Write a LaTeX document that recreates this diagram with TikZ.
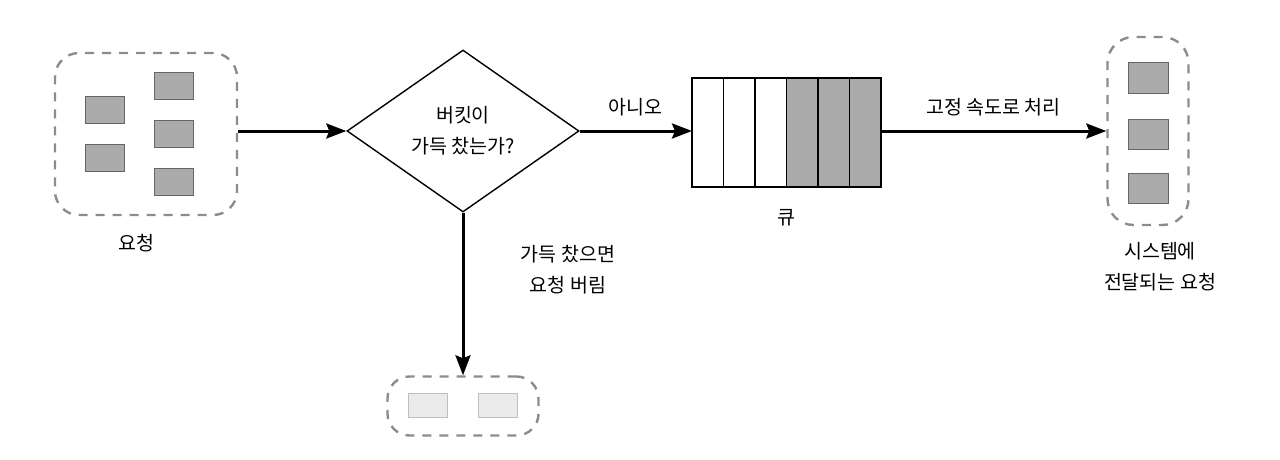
\documentclass[tikz,border=0pt]{standalone}
\usepackage{fontspec}
\setmainfont{Noto Sans CJK KR}
\usepackage{tikz}
\usetikzlibrary{shapes.geometric,arrows.meta}

\tikzset{
  grp/.style={draw=black!45,line width=2.4pt,dash pattern=on 9pt off 8pt,rounded corners=24pt},
  req/.style={draw=black!60,line width=1pt,fill=black!33,minimum width=39pt,minimum height=27pt,inner sep=0pt},
  dropreq/.style={draw=black!25,line width=1pt,fill=black!8,minimum width=39pt,minimum height=24pt,inner sep=0pt},
  flow/.style={line width=3pt,-{Stealth[length=20pt,width=15pt,inset=3pt]}},
  lbl/.style={font=\fontsize{19.5}{31}\selectfont,align=center,inner sep=0pt}
}

\begin{document}
\begin{tikzpicture}[x=1pt,y=-1pt]
			\useasboundingbox (0,0) rectangle (1280,460);
			% incoming requests
			\node[grp,minimum width=182pt,minimum height=162pt] (inbox) at (146,134) {};
			\node[req] (r1) at (105,110) {};
			\node[req] (r2) at (105,158) {};
			\node[req] (r3) at (174,86) {};
			\node[req] (r4) at (174,134) {};
			\node[req] (r5) at (174,182) {};
			\node[lbl] (inlbl) at (136,243) {요청};
			% bucket check
			\node[diamond,draw,line width=1.4pt,minimum width=232pt,minimum height=162pt,inner sep=0pt] (chk) at (463,131) {};
			\node[lbl] (chklbl) at (chk.center) {버킷이\\가득 찼는가?};
			% queue
			\foreach \i in {0,...,5} {
				\ifnum\i<3 \def\qfill{white}\else \def\qfill{black!33}\fi
				\draw[line width=1.4pt,fill=\qfill] (692+31.5*\i,78) rectangle (692+31.5*\i+31.5,187);
			}
			\coordinate (qin) at (692,131);
			\coordinate (qout) at (881,131);
			\node[lbl] (qlbl) at (786,218) {큐};
			% system side
			\node[grp,minimum width=81pt,minimum height=188pt,rounded corners=26pt] (outbox) at (1148,131) {};
			\node[req,minimum width=40pt,minimum height=30pt] (s1) at (1148,78) {};
			\node[req,minimum width=40pt,minimum height=30pt] (s2) at (1148,134) {};
			\node[req,minimum width=40pt,minimum height=30pt] (s3) at (1148,188) {};
			\node[lbl] (outlbl) at (1160,267) {시스템에\\전달되는 요청};
			% dropped
			\node[grp,minimum width=151pt,minimum height=59pt,rounded corners=22pt] (dropbox) at (463,406) {};
			\node[dropreq] (d1) at (428,405) {};
			\node[dropreq] (d2) at (498,405) {};
			% arrows
			\draw[flow] (inbox.east |- chk.west) -- (chk.west);
			\draw[flow] (chk.east) -- (qin) node[lbl,midway,above=13pt] (nolbl) {아니오};
			\draw[flow] (qout) -- (outbox.west) node[lbl,midway,above=13pt] (ratelbl) {고정 속도로 처리};
			\draw[flow] (chk.south) -- (dropbox.north);
			\node[lbl] (droplbl) at (568,270) {가득 찼으면\\요청 버림};
		\end{tikzpicture}
\end{document}
